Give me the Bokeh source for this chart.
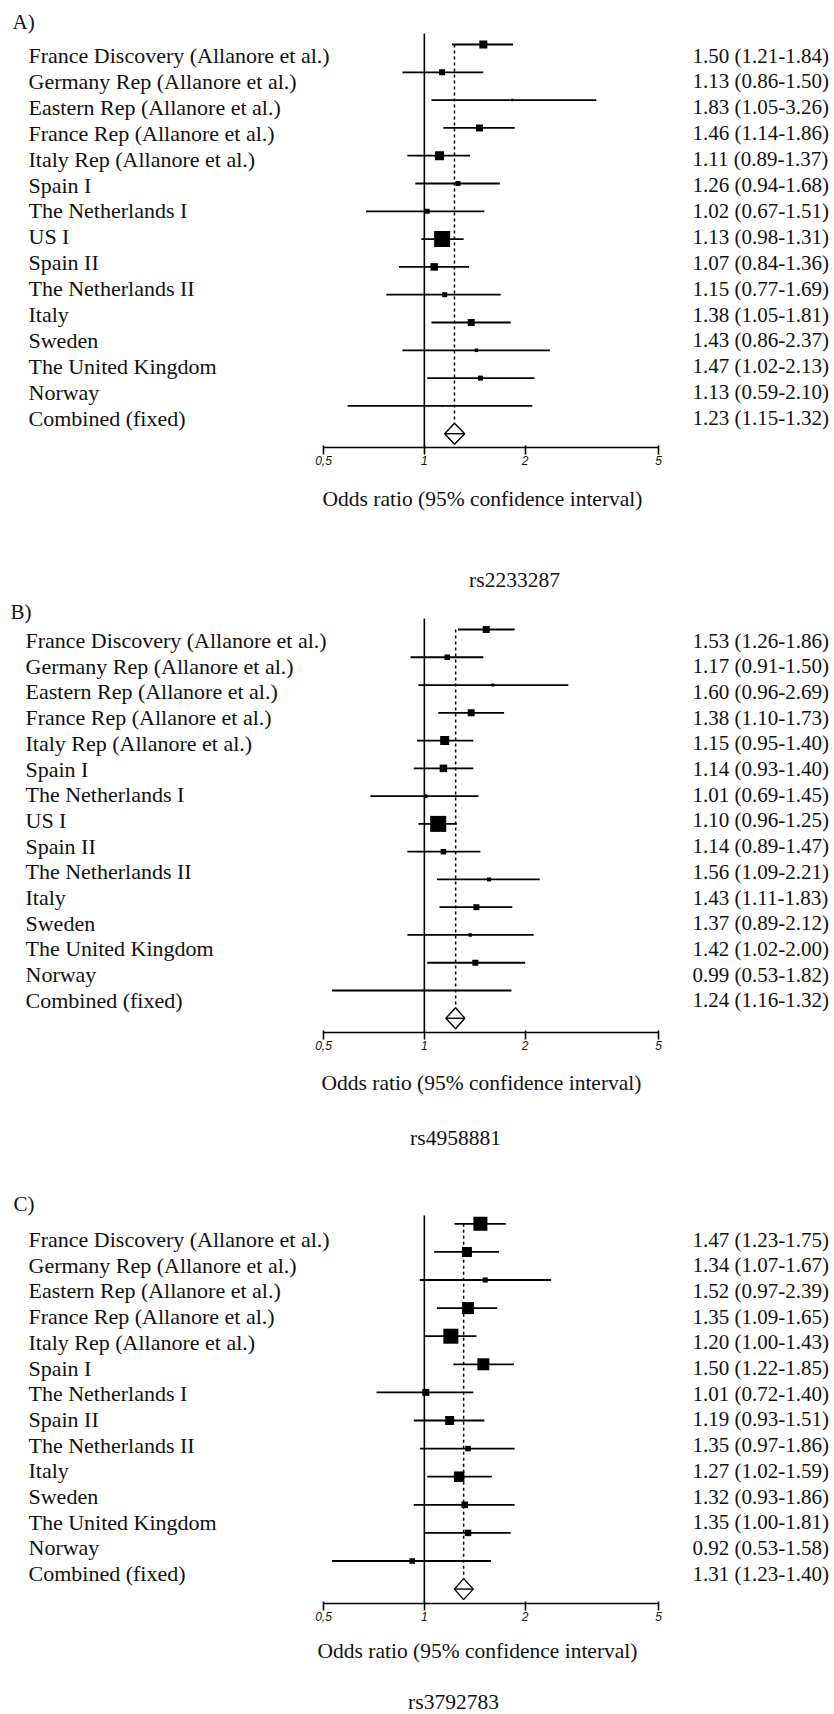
from bokeh.plotting import figure
from bokeh.models import Range1d, FixedTicker, ColumnDataSource, LinearScale
from bokeh.layouts import column
from bokeh.embed import file_html
from bokeh.resources import INLINE
from bokeh.core.properties import value

# ---------------- data ----------------
studies_ab = ["France Discovery (Allanore et al.)", "Germany Rep (Allanore et al.)",
              "Eastern Rep (Allanore et al.)", "France Rep (Allanore et al.)",
              "Italy Rep (Allanore et al.)", "Spain I", "The Netherlands I", "US I",
              "Spain II", "The Netherlands II", "Italy", "Sweden",
              "The United Kingdom", "Norway"]
studies_c = ["France Discovery (Allanore et al.)", "Germany Rep (Allanore et al.)",
             "Eastern Rep (Allanore et al.)", "France Rep (Allanore et al.)",
             "Italy Rep (Allanore et al.)", "Spain I", "The Netherlands I",
             "Spain II", "The Netherlands II", "Italy", "Sweden",
             "The United Kingdom", "Norway"]
combined_label = "Combined (fixed)"

# A) rs2233287
or_a = [1.50, 1.13, 1.83, 1.46, 1.11, 1.26, 1.02, 1.13, 1.07, 1.15, 1.38, 1.43, 1.47, 1.13]
lo_a = [1.21, 0.86, 1.05, 1.14, 0.89, 0.94, 0.67, 0.98, 0.84, 0.77, 1.05, 0.86, 1.02, 0.59]
hi_a = [1.84, 1.50, 3.26, 1.86, 1.37, 1.68, 1.51, 1.31, 1.36, 1.69, 1.81, 2.37, 2.13, 2.10]
weight_a = [8, 6, 2.5, 7, 9, 5, 5, 16, 7.5, 5, 7, 3.5, 5, 1.5]
combined_a = [1.23, 1.15, 1.32]

# B) rs4958881
or_b = [1.53, 1.17, 1.60, 1.38, 1.15, 1.14, 1.01, 1.10, 1.14, 1.56, 1.43, 1.37, 1.42, 0.99]
lo_b = [1.26, 0.91, 0.96, 1.10, 0.95, 0.93, 0.69, 0.96, 0.89, 1.09, 1.11, 0.89, 1.02, 0.53]
hi_b = [1.86, 1.50, 2.69, 1.73, 1.40, 1.40, 1.45, 1.25, 1.47, 2.21, 1.83, 2.12, 2.00, 1.82]
weight_b = [7, 5.5, 3, 7, 9, 7.5, 3.5, 16, 5.5, 4, 6, 3.5, 6, 1.5]
combined_b = [1.24, 1.16, 1.32]

# C) rs3792783
or_c = [1.47, 1.34, 1.52, 1.35, 1.20, 1.50, 1.01, 1.19, 1.35, 1.27, 1.32, 1.35, 0.92]
lo_c = [1.23, 1.07, 0.97, 1.09, 1.00, 1.22, 0.72, 0.93, 0.97, 1.02, 0.93, 1.00, 0.53]
hi_c = [1.75, 1.67, 2.39, 1.65, 1.43, 1.85, 1.40, 1.51, 1.86, 1.59, 1.86, 1.81, 1.58]
weight_c = [14, 10, 5, 12, 15, 12, 7, 9, 5.5, 10.5, 6.5, 6.5, 5.5]
combined_c = [1.31, 1.23, 1.40]

ticks = [0.5, 1, 2, 5]
tick_labels = ["0,5", "1", "2", "5"]
null_value = 1
x_title = "Odds ratio (95% confidence interval)"

# ---------------- layout ----------------
W = 834
PX_HALF = 323      # canvas x of OR = 0.5
DECADE = 335       # px per decade
x_start = 0.5 * 10 ** (-PX_HALF / DECADE)
x_end = 0.5 * 10 ** ((W - PX_HALF) / DECADE)

SERIF = value("Liberation Serif")
TXT = "#111111"


def panel(letter, snp, studies, ors, los, his, wts, comb, H, axis_y, letter_pos,
          vtop, p0, pd, t0, td, label_x, right_x, xlabel_pos, snp_pos):
    p = figure(width=W, height=H, x_axis_type="log",
               x_range=Range1d(x_start, x_end), y_range=Range1d(H, 0),
               y_axis_location=None, toolbar_location=None, output_backend="svg",
               min_border_left=0, min_border_right=0, min_border_top=0,
               min_border_bottom=0)
    p.extra_x_ranges = {"px": Range1d(0, W)}
    p.extra_x_scales = {"px": LinearScale()}
    p.outline_line_color = None
    p.xgrid.visible = False
    p.ygrid.visible = False
    p.background_fill_color = "white"
    p.border_fill_color = "white"

    n = len(studies)
    yp = [p0 + i * pd for i in range(n)]
    yd = p0 + n * pd
    dh = 10.5

    # null line and combined (dashed) line
    p.segment(x0=[null_value], x1=[null_value], y0=[vtop], y1=[axis_y],
              line_color="black", line_width=1.6)
    p.segment(x0=[comb[0]], x1=[comb[0]], y0=[yp[0]], y1=[yd - dh],
              line_color="black", line_width=1.5, line_dash="3 3")

    src = ColumnDataSource(dict(o=ors, lo=los, hi=his, y=yp, w=wts))
    p.segment(x0="lo", x1="hi", y0="y", y1="y", source=src,
              line_color="black", line_width=1.8)
    p.scatter(x="o", y="y", size="w", marker="square", source=src,
              fill_color="black", line_color=None)

    # combined diamond
    p.patch(x=[comb[1], comb[0], comb[2], comb[0]], y=[yd, yd - dh, yd, yd + dh],
            fill_color="white", line_color="black", line_width=1.4)
    p.segment(x0=[comb[1]], x1=[comb[2]], y0=[yd], y1=[yd],
              line_color="black", line_width=1.4)

    # texts
    labels = studies + [combined_label]
    right = ["%.2f (%.2f-%.2f)" % (o, l, h) for o, l, h in zip(ors, los, his)]
    right.append("%.2f (%.2f-%.2f)" % tuple(comb))
    yt = [t0 + i * td for i in range(len(labels))]
    p.text(x=[label_x] * len(labels), y=yt, text=labels, x_range_name="px",
           text_font=SERIF, text_font_size="22px", text_color=TXT,
           text_baseline="middle", text_align="left")
    p.text(x=[right_x] * len(right), y=yt, text=right, x_range_name="px",
           text_font=SERIF, text_font_size="21px", text_color=TXT,
           text_baseline="middle", text_align="left")
    p.text(x=[letter_pos[0]], y=[letter_pos[1]], text=[letter], x_range_name="px",
           text_font=SERIF, text_font_size="21px", text_color=TXT,
           text_baseline="middle", text_align="left")
    p.text(x=[xlabel_pos[0]], y=[xlabel_pos[1]], text=[x_title], x_range_name="px",
           text_font=SERIF, text_font_size="21.5px", text_color=TXT,
           text_baseline="middle", text_align="center")
    p.text(x=[snp_pos[0]], y=[snp_pos[1]], text=[snp], x_range_name="px",
           text_font=SERIF, text_font_size="21.5px", text_color=TXT,
           text_baseline="middle", text_align="center")

    # axis, drawn at its own row position inside the frame
    ax = p.xaxis[0]
    ax.fixed_location = axis_y
    ax.ticker = FixedTicker(ticks=ticks, minor_ticks=[])
    ax.major_label_overrides = {t: s for t, s in zip(ticks, tick_labels)}
    ax.bounds = (ticks[0], ticks[-1])
    ax.axis_line_width = 1.6
    ax.axis_line_color = "black"
    ax.major_tick_line_width = 1.6
    ax.major_tick_line_color = "black"
    ax.major_tick_out = 7
    ax.major_tick_in = 2
    ax.minor_tick_line_color = None
    ax.major_label_standoff = 1
    ax.major_label_text_font = "Liberation Sans"
    ax.major_label_text_font_size = "12px"
    ax.major_label_text_font_style = "italic"
    ax.major_label_text_color = "#111111"
    return p


pa = panel("A)", "rs2233287", studies_ab, or_a, lo_a, hi_a, weight_a, combined_a,
           H=590, axis_y=447, letter_pos=(12, 21.5), vtop=33, p0=44, pd=27.8,
           t0=55, td=25.9, label_x=28, right_x=692, xlabel_pos=(482, 498),
           snp_pos=(514, 579))
pb = panel("B)", "rs4958881", studies_ab, or_b, lo_b, hi_b, weight_b, combined_b,
           H=585, axis_y=442, letter_pos=(10, 21.7), vtop=28, p0=39, pd=27.77,
           t0=50, td=25.7, label_x=25, right_x=692, xlabel_pos=(481, 492),
           snp_pos=(455, 547))
pc = panel("C)", "rs3792783", studies_c, or_c, lo_c, hi_c, weight_c, combined_c,
           H=539, axis_y=428, letter_pos=(13, 28.3), vtop=40, p0=48.3, pd=28.1,
           t0=64, td=25.7, label_x=28, right_x=692, xlabel_pos=(477, 475),
           snp_pos=(453, 526))

layout = column(pa, pb, pc, spacing=0)
open("out.html", "w").write(file_html(layout, INLINE))
